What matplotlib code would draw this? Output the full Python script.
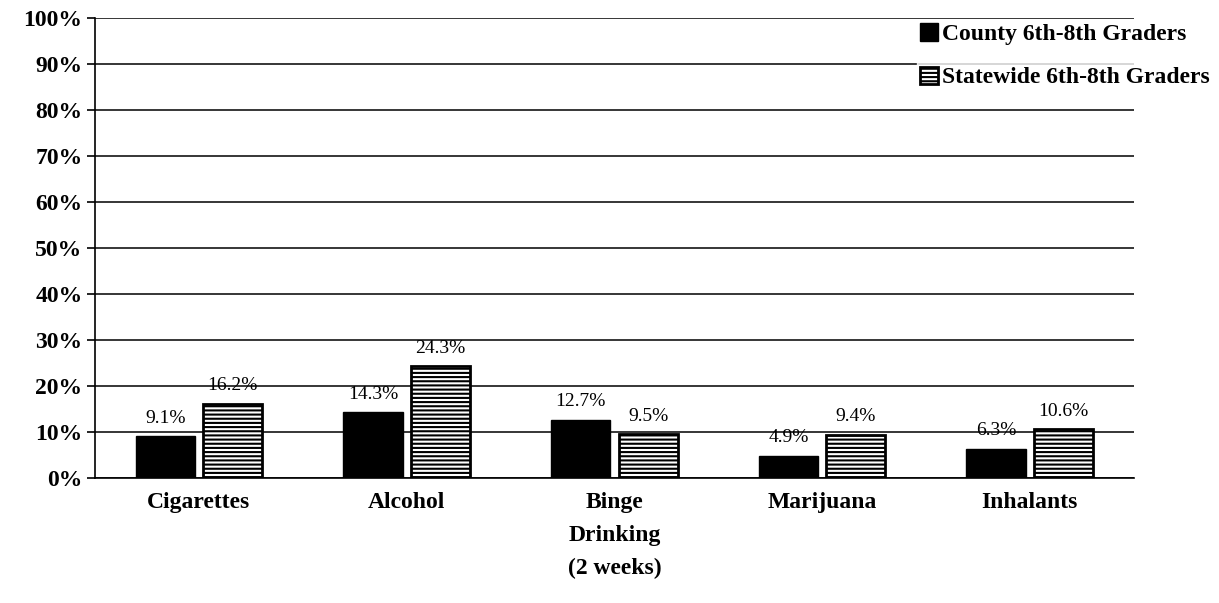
import matplotlib.pyplot as plt
import numpy as np

categories = ["Cigarettes", "Alcohol", "Binge\nDrinking\n(2 weeks)", "Marijuana", "Inhalants"]
county = [9.1, 14.3, 12.7, 4.9, 6.3]
statewide = [16.2, 24.3, 9.5, 9.4, 10.6]
yticks = [0, 10, 20, 30, 40, 50, 60, 70, 80, 90, 100]

plt.rcParams["font.family"] = ["Liberation Serif", "DejaVu Serif"]
plt.rcParams["hatch.linewidth"] = 1.5

fig = plt.figure(figsize=(12.19, 6.03), dpi=100)
ax = fig.add_axes([0.078, 0.207, 0.852, 0.763])

x = np.arange(len(categories))
w = 0.285
gap = 0.04
b1 = ax.bar(x - w / 2 - gap / 2, county, w, color="black", edgecolor="black",
            label="County 6th-8th Graders", zorder=3)
b2 = ax.bar(x + w / 2 + gap / 2, statewide, w, color="white", edgecolor="black",
            hatch="----", linewidth=2, label="Statewide 6th-8th Graders", zorder=3)

for bars, vals in [(b1, county), (b2, statewide)]:
    for b, v in zip(bars, vals):
        ax.annotate(f"{v}%", (b.get_x() + b.get_width() / 2, v),
                    xytext=(0, 7), textcoords="offset points",
                    ha="center", va="bottom", fontsize=14, zorder=4)

ax.set_xlim(-0.5, len(categories) - 0.5)
ax.set_ylim(0, 100)
ax.set_yticks(yticks)
ax.set_yticklabels([f"{t}%" for t in yticks], fontsize=17, fontweight="bold")
ax.set_xticks(x)
ax.set_xticklabels(categories, fontsize=17, fontweight="bold", linespacing=1.75)
ax.tick_params(axis="x", length=0, pad=10)
ax.tick_params(axis="y", length=6, width=1.2, direction="out", pad=3)
ax.yaxis.grid(True, color="black", linewidth=1.1, zorder=0)
ax.set_axisbelow(True)
for s in ["top", "right"]:
    ax.spines[s].set_visible(False)
ax.spines["left"].set_linewidth(1.2)
ax.spines["bottom"].set_linewidth(1.2)

leg = fig.legend(loc="upper right", bbox_to_anchor=(0.995, 0.967), frameon=True,
                 prop={"size": 17, "weight": "bold"}, handlelength=0.75,
                 handleheight=0.75, handletextpad=0.15, labelspacing=0.9,
                 borderaxespad=0, borderpad=0.15, fancybox=False)
leg.get_frame().set_edgecolor("white")
leg.get_frame().set_facecolor("white")

fig.savefig("out.png", dpi=100)
